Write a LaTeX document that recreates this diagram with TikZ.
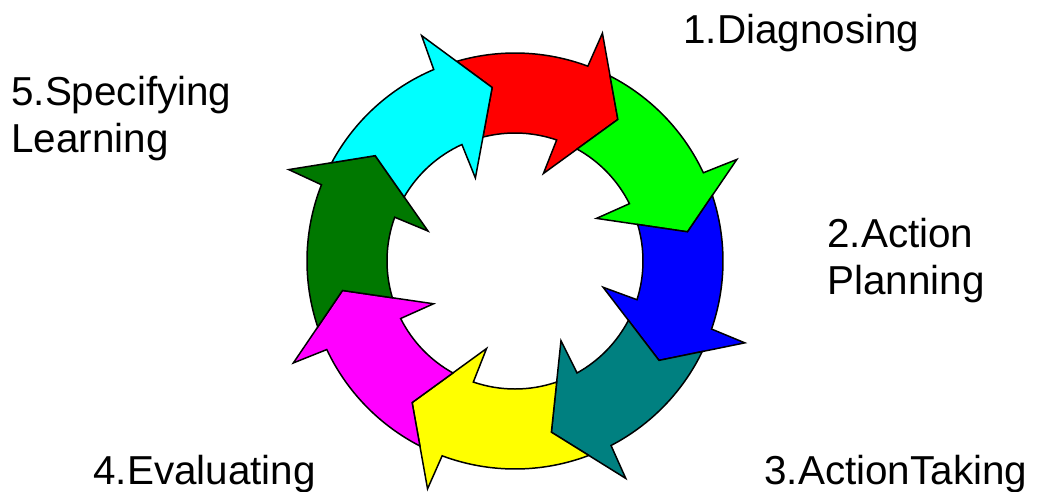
\documentclass[tikz,border=0pt]{standalone}
\usepackage{fontspec}
\setmainfont{Liberation Sans}
\usepackage{tikz}
\usetikzlibrary{positioning}
\definecolor{ringRed}{HTML}{FF0000}
\definecolor{ringGreen}{HTML}{00FF00}
\definecolor{ringBlue}{HTML}{0000FF}
\definecolor{ringTeal}{HTML}{008080}
\definecolor{ringYellow}{HTML}{FFFF00}
\definecolor{ringMagenta}{HTML}{FF00FF}
\definecolor{ringDarkGreen}{HTML}{007800}
\definecolor{ringCyan}{HTML}{00FFFF}

\begin{document}
\begin{tikzpicture}[x=0.02cm, y=0.02cm,
    ringarrow/.style={draw=black, line width=0.85pt, line join=miter},
    steplabel/.style={font=\fontsize{23}{27}\selectfont, anchor=base west, inner sep=0pt, align=left}]
    \useasboundingbox (-515,-230) rectangle (527,261);
    % Ring of curved arrows (tip angle / tip angle of the arrow before)
    \foreach \col/\tip/\prev in {ringRed/54/97.5, ringGreen/9.6/54, ringBlue/-34.6/9.6,
        ringTeal/-78/-34.6, ringYellow/-126/-78, ringMagenta/-170.3/-126,
        ringDarkGreen/-217/-170.3, ringCyan/-262.5/-217} {
        \filldraw[ringarrow, fill=\col] ({\prev+8.8}:208)
            arc[start angle={\prev+8.8}, end angle={\tip+15.5}, radius=208]
            -- ({\tip+15}:244) -- (\tip:175) -- ({\tip+18}:92) -- ({\tip+17}:128)
            arc[start angle={\tip+17}, end angle={\prev+7}, radius=128]
            -- (\prev:175) -- cycle;
    }
    % Step labels (base = last line)
    \node[steplabel] (diag) at (168,218) {1.Diagnosing};
    \node[steplabel] (plan) at (312,-33.5) {2.Action\\Planning};
    \node[steplabel] (take) at (249,-223) {3.ActionTaking};
    \node[steplabel] (eval) at (-422,-223) {4.Evaluating};
    \node[steplabel] (learn) at (-504,108.5) {5.Specifying\\Learning};
\end{tikzpicture}
\end{document}
